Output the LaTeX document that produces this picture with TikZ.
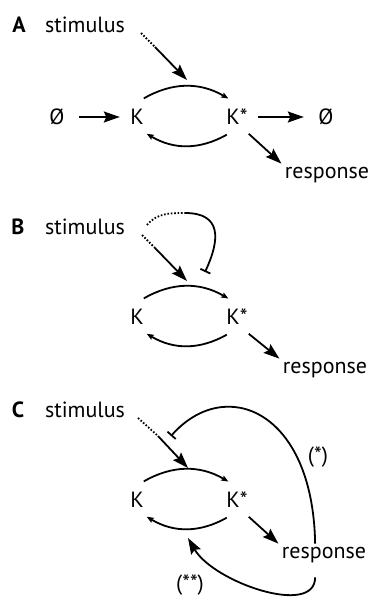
\documentclass[tikz,border=0pt]{standalone}
\usepackage{fontspec}
\setmainfont{PT Sans}
\usetikzlibrary{arrows.meta,shapes.geometric,positioning}

\tikzset{
  species/.style={ellipse,minimum height=40pt,inner sep=0pt},
  actarrow/.style={-{Stealth[length=16pt,width=11pt,inset=2.5pt]},line width=1.8pt},
  cycarrow/.style={-{Stealth[length=7pt,width=5.5pt,inset=1pt]},line width=1.8pt},
  inharrow/.style={-{Bar[width=11pt,line width=1.8pt]},line width=1.8pt},
  dotline/.style={line width=1.8pt,dash pattern=on 1.6pt off 1.8pt},
  panel/.style={font=\fontsize{22}{26}\selectfont\bfseries},
}

\begin{document}
\begin{tikzpicture}[x=1pt,y=1pt,font=\fontsize{22}{26}\selectfont]
  \useasboundingbox (0,0) rectangle (374,-604);

  % A: plain cycle
  \node[panel] (labA) at (19,-25) {A};
  \node (stimA) at (85,-25) {stimulus};
  \node[minimum width=44pt] (srcA) at (57,-117) {Ø};
  \node[species,minimum width=34pt] (KA) at (137,-117) {K};
  \node[species,minimum width=42pt] (KsA) at (237,-117) {K*};
  \node[minimum width=44pt] (snkA) at (326,-117) {Ø};
  \node (respA) at (327,-175) {response};
  \coordinate (dotA) at (141,-33);
  \coordinate (solA) at (155,-47);
  \coordinate (hitA) at (187,-80);
  \draw[cycarrow] (KA.70) to[bend left=30] (KsA.115);
  \draw[cycarrow] (KsA.-120) to[bend left=30] (KA.-60);
  \draw[actarrow] (srcA) -- (KA);
  \draw[actarrow] (KsA) -- (snkA);
  \draw[actarrow] (KsA.-55) -- (respA.north west);
  \draw[dotline] (dotA) -- (solA);
  \draw[actarrow] (solA) -- (hitA);

  % B: stimulus feeds forward
  \node[panel] (labB) at (18,-227) {B};
  \node (stimB) at (85,-227) {stimulus};
  \node[species,minimum width=34pt] (KB) at (137,-317) {K};
  \node[species,minimum width=42pt] (KsB) at (237,-317) {K*};
  \node (respB) at (325,-370) {response};
  \coordinate (dotB) at (142,-235);
  \coordinate (solB) at (155,-248);
  \coordinate (hitB) at (187,-281);
  \coordinate (loopB) at (147,-225);
  \coordinate (topB) at (185,-213);
  \coordinate (barB) at (205,-272);
  \draw[cycarrow] (KB.70) to[bend left=30] (KsB.115);
  \draw[cycarrow] (KsB.-120) to[bend left=30] (KB.-60);
  \draw[actarrow] (KsB.-55) -- (respB.north west);
  \draw[dotline] (dotB) -- (solB);
  \draw[actarrow] (solB) -- (hitB);
  \draw[dotline] (loopB) to[out=50,in=180] (topB);
  \draw[inharrow] (topB) to[out=0,in=65,looseness=1.5] (barB);

  % C: response feeds back
  \node[panel] (labC) at (18,-410) {C};
  \node (stimC) at (85,-410) {stimulus};
  \node[species,minimum width=34pt] (KC) at (137,-500) {K};
  \node[species,minimum width=42pt] (KsC) at (237,-500) {K*};
  \node (respC) at (324,-555) {response};
  \node (starC) at (318,-457) {(*)};
  \node (sstarC) at (190,-585) {(**)};
  \coordinate (dotC) at (138,-418);
  \coordinate (solC) at (158,-436);
  \coordinate (hitC) at (188,-468);
  \coordinate (barC) at (171,-436);
  \coordinate (fbC) at (188,-538);
  \draw[cycarrow] (KC.70) to[bend left=30] (KsC.115);
  \draw[cycarrow] (KsC.-120) to[bend left=30] (KC.-60);
  \draw[actarrow] (KsC.-55) -- (respC.north west);
  \draw[dotline] (dotC) -- (solC);
  \draw[actarrow] (solC) -- (hitC);
  \draw[inharrow] (respC.128) .. controls (313,-410) and (225,-375) .. (barC);
  \draw[actarrow,shorten <=11pt] (respC.-128) to[out=-90,in=-60] (fbC);
\end{tikzpicture}
\end{document}
